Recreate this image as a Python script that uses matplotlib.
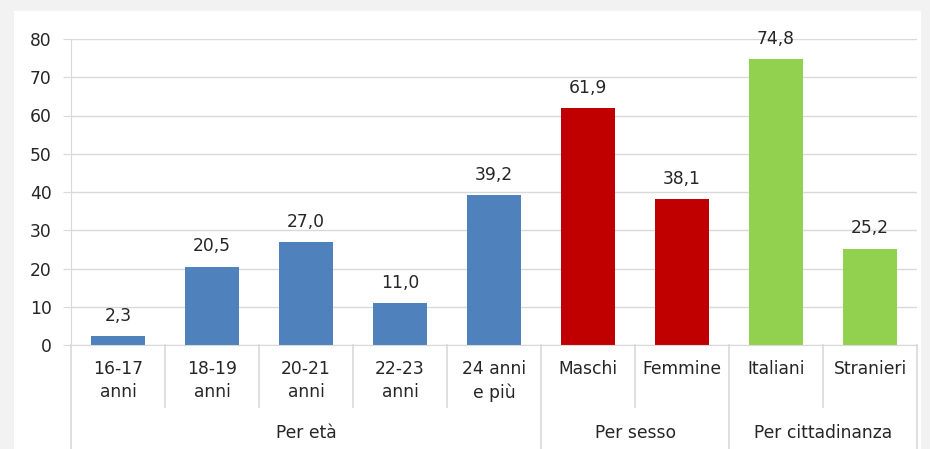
import matplotlib.pyplot as plt
from matplotlib.patches import Rectangle
from matplotlib.transforms import blended_transform_factory

categories = ["16-17\nanni", "18-19\nanni", "20-21\nanni", "22-23\nanni", "24 anni\ne più",
              "Maschi", "Femmine", "Italiani", "Stranieri"]
values = [2.3, 20.5, 27.0, 11.0, 39.2, 61.9, 38.1, 74.8, 25.2]
groups = ["Per età", "Per sesso", "Per cittadinanza"]
group_sizes = [5, 2, 2]
group_colors = ["#4F81BD", "#C00000", "#92D050"]

plt.rcParams['font.family'] = ['DejaVu Sans']
FS = 12.3
W, H = 930, 449
fig = plt.figure(figsize=(W / 100, H / 100), dpi=100, facecolor="#f2f2f2")
fig.patches.append(Rectangle((14 / W, 0), (921 - 14) / W, (H - 11) / H,
                             transform=fig.transFigure, facecolor="white",
                             edgecolor="none", zorder=-10))

ax = fig.add_axes([71 / W, (H - 345) / H, (917 - 71) / W, (345 - 39) / H])
ax.set_facecolor("none")

colors = []
for c, n in zip(group_colors, group_sizes):
    colors += [c] * n

x = list(range(len(values)))
bars = ax.bar(x, values, width=0.58, color=colors, zorder=3)
for xi, v in zip(x, values):
    ax.annotate(f"{v:.1f}".replace(".", ","), (xi, v), xytext=(0, 8),
                textcoords="offset points", ha="center", va="bottom",
                fontsize=FS, color="#262626")

ax.set_xlim(-0.5, len(values) - 0.5)
ax.set_ylim(0, 80)
ax.set_yticks(range(0, 81, 10))
ax.tick_params(axis="y", length=6, color="#d9d9d9", labelsize=FS,
               labelcolor="#262626", pad=8)
ax.set_xticks([])
ax.grid(axis="y", color="#d9d9d9", linewidth=1, zorder=0)
for s in ["top", "right"]:
    ax.spines[s].set_visible(False)
ax.spines["left"].set_color("#d9d9d9")
ax.spines["bottom"].set_color("#d9d9d9")
ax.spines["left"].set_zorder(4)
ax.spines["bottom"].set_zorder(4)

trans = blended_transform_factory(ax.transData, ax.transAxes)
axh = 345 - 39
row1 = -(407 - 345) / axh
bottom = -(449 - 345) / axh

for xi, lab in zip(x, categories):
    ax.text(xi, -(360 - 345) / axh, lab, transform=trans, ha="center", va="top",
            fontsize=FS, color="#262626", linespacing=1.35)

# separators
bounds = [-0.5]
for n in group_sizes:
    bounds.append(bounds[-1] + n)
for i in range(len(values) + 1):
    b = i - 0.5
    yb = bottom if b in bounds else row1
    ax.plot([b, b], [0, yb], transform=trans, color="#d9d9d9", lw=1.2,
            clip_on=False)

start = -0.5
for g, n in zip(groups, group_sizes):
    ax.text(start + n / 2, -(433 - 345) / axh, g, transform=trans, ha="center",
            va="center", fontsize=FS, color="#262626")
    start += n

fig.savefig("out.png", dpi=100, facecolor=fig.get_facecolor())
